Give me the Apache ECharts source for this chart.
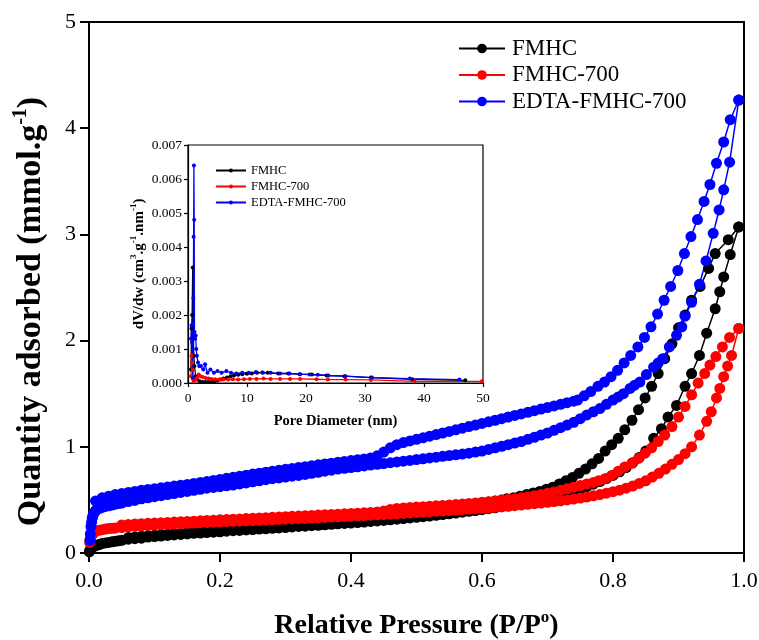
<!DOCTYPE html>
<html><head><meta charset="utf-8">
<script src="https://cdn.jsdelivr.net/npm/echarts@6/dist/echarts.min.js"></script>
<style>html,body{margin:0;padding:0;background:#fff}#c{width:759px;height:640px}</style>
</head><body><div id="c"></div>
<script>
// ---------- Main isotherm data [P/P0, mmol/g] ----------
const fmhcAds = [[0.0005,0.01],[0.001,0.02],[0.002,0.03],[0.003,0.04],[0.005,0.05],[0.007,0.06],[0.01,0.07],[0.013,0.075],[0.016,0.08],[0.02,0.09],[0.025,0.095],[0.03,0.10],[0.035,0.105],[0.04,0.11],[0.045,0.115],[0.05,0.12],[0.06,0.13],[0.07,0.135],[0.08,0.14],[0.09,0.15],[0.10,0.155],[0.11,0.16],[0.12,0.165],[0.13,0.17],[0.14,0.175],[0.15,0.18],[0.16,0.185],[0.17,0.188],[0.18,0.192],[0.19,0.196],[0.20,0.20],[0.21,0.205],[0.22,0.21],[0.23,0.213],[0.24,0.217],[0.25,0.221],[0.26,0.225],[0.27,0.228],[0.28,0.232],[0.29,0.236],[0.30,0.24],[0.31,0.245],[0.32,0.25],[0.33,0.253],[0.34,0.257],[0.35,0.261],[0.36,0.265],[0.37,0.27],[0.38,0.275],[0.39,0.278],[0.40,0.282],[0.41,0.287],[0.42,0.292],[0.43,0.297],[0.44,0.302],[0.45,0.307],[0.46,0.312],[0.47,0.318],[0.48,0.324],[0.49,0.33],[0.50,0.336],[0.51,0.342],[0.52,0.348],[0.53,0.355],[0.54,0.362],[0.55,0.369],[0.56,0.376],[0.57,0.384],[0.58,0.392],[0.59,0.40],[0.60,0.408],[0.61,0.417],[0.62,0.426],[0.63,0.436],[0.64,0.446],[0.65,0.457],[0.66,0.468],[0.67,0.48],[0.68,0.492],[0.69,0.505],[0.70,0.518],[0.71,0.533],[0.72,0.548],[0.73,0.565],[0.74,0.583],[0.75,0.603],[0.76,0.625],[0.77,0.648],[0.78,0.673],[0.79,0.70],[0.80,0.73],[0.81,0.765],[0.82,0.805],[0.83,0.85],[0.84,0.90],[0.85,0.96],[0.862,1.08],[0.874,1.17],[0.884,1.28],[0.897,1.39],[0.910,1.57],[0.920,1.69],[0.932,1.86],[0.943,2.07],[0.956,2.30],[0.963,2.46],[0.969,2.60],[0.979,2.81],[0.992,3.07]];
const fmhcDes = [[0.992,3.07],[0.976,2.95],[0.956,2.82],[0.946,2.68],[0.933,2.51],[0.920,2.38],[0.910,2.24],[0.900,2.12],[0.890,1.97],[0.879,1.83],[0.869,1.69],[0.859,1.57],[0.849,1.46],[0.839,1.35],[0.829,1.25],[0.818,1.16],[0.808,1.08],[0.798,1.02],[0.788,0.96],[0.778,0.89],[0.768,0.84],[0.758,0.79],[0.748,0.75],[0.738,0.71],[0.728,0.68],[0.718,0.65],[0.708,0.62],[0.698,0.60],[0.688,0.58],[0.678,0.565],[0.668,0.55],[0.658,0.535],[0.648,0.52],[0.638,0.51],[0.63,0.50],[0.62,0.49],[0.61,0.48],[0.60,0.47],[0.59,0.46],[0.58,0.45],[0.57,0.44],[0.56,0.43],[0.55,0.422],[0.54,0.415],[0.53,0.407],[0.52,0.40],[0.51,0.392],[0.50,0.385],[0.49,0.377],[0.48,0.37],[0.47,0.362],[0.46,0.355],[0.45,0.345],[0.44,0.335],[0.43,0.327],[0.42,0.32],[0.41,0.31],[0.40,0.30],[0.39,0.296],[0.38,0.292],[0.37,0.287],[0.36,0.282],[0.35,0.277],[0.34,0.272],[0.33,0.267],[0.32,0.262],[0.31,0.257],[0.30,0.253],[0.29,0.249],[0.28,0.245],[0.27,0.241],[0.26,0.237],[0.25,0.233],[0.24,0.229],[0.23,0.225],[0.22,0.221],[0.21,0.217],[0.20,0.213],[0.19,0.209],[0.18,0.205],[0.17,0.20],[0.16,0.196],[0.15,0.191],[0.14,0.187],[0.13,0.182],[0.12,0.177],[0.11,0.172],[0.10,0.167],[0.09,0.162],[0.08,0.157],[0.07,0.151],[0.06,0.145]];
const f700Ads = [[0.001,0.10],[0.002,0.13],[0.003,0.15],[0.004,0.165],[0.005,0.18],[0.007,0.19],[0.009,0.20],[0.012,0.21],[0.016,0.215],[0.02,0.22],[0.025,0.225],[0.03,0.23],[0.035,0.232],[0.04,0.235],[0.05,0.24],[0.06,0.245],[0.07,0.25],[0.08,0.255],[0.09,0.258],[0.10,0.262],[0.11,0.266],[0.12,0.27],[0.13,0.273],[0.14,0.276],[0.15,0.279],[0.16,0.282],[0.17,0.285],[0.18,0.288],[0.19,0.29],[0.20,0.293],[0.21,0.296],[0.22,0.298],[0.23,0.30],[0.24,0.303],[0.25,0.306],[0.26,0.308],[0.27,0.311],[0.28,0.313],[0.29,0.316],[0.30,0.318],[0.31,0.321],[0.32,0.324],[0.33,0.326],[0.34,0.329],[0.35,0.332],[0.36,0.335],[0.37,0.338],[0.38,0.341],[0.39,0.344],[0.40,0.347],[0.41,0.35],[0.42,0.353],[0.43,0.356],[0.44,0.359],[0.45,0.362],[0.46,0.366],[0.47,0.37],[0.48,0.373],[0.49,0.377],[0.50,0.381],[0.51,0.384],[0.52,0.388],[0.53,0.392],[0.54,0.396],[0.55,0.40],[0.56,0.404],[0.57,0.408],[0.58,0.412],[0.59,0.416],[0.60,0.42],[0.61,0.425],[0.62,0.43],[0.63,0.435],[0.64,0.44],[0.65,0.446],[0.66,0.452],[0.67,0.458],[0.68,0.464],[0.69,0.47],[0.70,0.477],[0.71,0.484],[0.72,0.492],[0.73,0.50],[0.74,0.508],[0.75,0.517],[0.76,0.527],[0.77,0.538],[0.78,0.55],[0.79,0.563],[0.80,0.577],[0.81,0.592],[0.82,0.61],[0.83,0.63],[0.84,0.655],[0.85,0.68],[0.86,0.715],[0.87,0.75],[0.88,0.79],[0.89,0.835],[0.90,0.88],[0.91,0.935],[0.92,1.00],[0.932,1.11],[0.943,1.24],[0.950,1.33],[0.958,1.46],[0.963,1.55],[0.969,1.66],[0.975,1.76],[0.981,1.86],[0.992,2.115]];
const f700Des = [[0.992,2.115],[0.978,2.03],[0.967,1.94],[0.957,1.85],[0.948,1.77],[0.940,1.69],[0.930,1.60],[0.920,1.49],[0.910,1.38],[0.900,1.28],[0.890,1.19],[0.879,1.11],[0.869,1.05],[0.859,0.99],[0.849,0.94],[0.839,0.89],[0.829,0.845],[0.818,0.81],[0.808,0.77],[0.798,0.73],[0.788,0.70],[0.778,0.68],[0.77,0.665],[0.76,0.65],[0.75,0.635],[0.74,0.62],[0.73,0.605],[0.72,0.59],[0.71,0.575],[0.70,0.562],[0.69,0.55],[0.68,0.54],[0.67,0.53],[0.66,0.52],[0.65,0.512],[0.64,0.505],[0.63,0.498],[0.62,0.49],[0.61,0.483],[0.60,0.477],[0.59,0.471],[0.58,0.466],[0.57,0.461],[0.56,0.456],[0.55,0.452],[0.54,0.448],[0.53,0.444],[0.52,0.44],[0.51,0.436],[0.50,0.432],[0.49,0.428],[0.48,0.424],[0.47,0.42],[0.46,0.41],[0.45,0.395],[0.44,0.386],[0.43,0.382],[0.42,0.378],[0.41,0.375],[0.40,0.372],[0.39,0.369],[0.38,0.366],[0.37,0.363],[0.36,0.36],[0.35,0.357],[0.34,0.354],[0.33,0.351],[0.32,0.348],[0.31,0.345],[0.30,0.342],[0.29,0.339],[0.28,0.336],[0.27,0.333],[0.26,0.33],[0.25,0.327],[0.24,0.324],[0.23,0.321],[0.22,0.318],[0.21,0.315],[0.20,0.312],[0.19,0.309],[0.18,0.306],[0.17,0.303],[0.16,0.30],[0.15,0.297],[0.14,0.294],[0.13,0.291],[0.12,0.288],[0.11,0.285],[0.10,0.282],[0.09,0.279],[0.08,0.276],[0.07,0.272],[0.06,0.268],[0.05,0.264]];
const edtaAds = [[0.0015,0.12],[0.002,0.18],[0.003,0.25],[0.004,0.29],[0.005,0.33],[0.006,0.35],[0.007,0.37],[0.009,0.39],[0.011,0.405],[0.014,0.415],[0.017,0.422],[0.02,0.43],[0.025,0.438],[0.03,0.445],[0.035,0.452],[0.04,0.46],[0.045,0.465],[0.05,0.47],[0.06,0.485],[0.07,0.495],[0.08,0.51],[0.09,0.52],[0.10,0.53],[0.11,0.54],[0.12,0.55],[0.13,0.56],[0.14,0.57],[0.15,0.58],[0.16,0.59],[0.17,0.60],[0.18,0.61],[0.19,0.617],[0.20,0.625],[0.21,0.633],[0.22,0.64],[0.23,0.65],[0.24,0.66],[0.25,0.67],[0.26,0.68],[0.27,0.69],[0.28,0.70],[0.29,0.707],[0.30,0.715],[0.31,0.723],[0.32,0.73],[0.33,0.74],[0.34,0.75],[0.35,0.76],[0.36,0.77],[0.37,0.78],[0.38,0.79],[0.39,0.797],[0.40,0.805],[0.41,0.812],[0.42,0.82],[0.43,0.828],[0.44,0.835],[0.45,0.842],[0.46,0.85],[0.47,0.858],[0.48,0.865],[0.49,0.872],[0.50,0.88],[0.51,0.887],[0.52,0.895],[0.53,0.902],[0.54,0.91],[0.55,0.918],[0.56,0.925],[0.57,0.932],[0.58,0.94],[0.59,0.95],[0.60,0.96],[0.61,0.975],[0.62,0.99],[0.63,1.005],[0.64,1.02],[0.65,1.035],[0.66,1.05],[0.67,1.07],[0.68,1.09],[0.69,1.11],[0.70,1.13],[0.71,1.155],[0.72,1.18],[0.73,1.205],[0.74,1.23],[0.75,1.265],[0.76,1.30],[0.77,1.33],[0.78,1.36],[0.79,1.40],[0.80,1.44],[0.808,1.47],[0.816,1.50],[0.826,1.55],[0.833,1.58],[0.841,1.61],[0.851,1.68],[0.862,1.75],[0.869,1.79],[0.876,1.83],[0.886,1.94],[0.897,2.05],[0.905,2.13],[0.910,2.23],[0.920,2.36],[0.932,2.53],[0.942,2.75],[0.953,3.01],[0.962,3.23],[0.969,3.42],[0.978,3.68],[0.992,4.265]];
const edtaDes = [[0.992,4.265],[0.979,4.08],[0.969,3.87],[0.958,3.67],[0.948,3.47],[0.939,3.31],[0.929,3.14],[0.919,2.98],[0.909,2.82],[0.899,2.66],[0.888,2.51],[0.878,2.38],[0.868,2.25],[0.858,2.13],[0.848,2.03],[0.838,1.94],[0.827,1.86],[0.817,1.79],[0.807,1.72],[0.797,1.66],[0.787,1.61],[0.777,1.57],[0.766,1.52],[0.756,1.48],[0.746,1.44],[0.74,1.43],[0.73,1.415],[0.72,1.40],[0.71,1.385],[0.70,1.37],[0.69,1.355],[0.68,1.34],[0.67,1.325],[0.66,1.31],[0.65,1.295],[0.64,1.28],[0.63,1.265],[0.62,1.25],[0.61,1.235],[0.60,1.22],[0.59,1.205],[0.58,1.19],[0.57,1.175],[0.56,1.16],[0.55,1.145],[0.54,1.13],[0.53,1.115],[0.52,1.10],[0.51,1.085],[0.50,1.07],[0.49,1.055],[0.48,1.04],[0.47,1.02],[0.46,0.99],[0.45,0.95],[0.44,0.915],[0.43,0.895],[0.42,0.885],[0.41,0.878],[0.40,0.87],[0.39,0.862],[0.38,0.854],[0.37,0.846],[0.36,0.838],[0.35,0.83],[0.34,0.822],[0.33,0.813],[0.32,0.805],[0.31,0.796],[0.30,0.788],[0.29,0.779],[0.28,0.77],[0.27,0.761],[0.26,0.752],[0.25,0.743],[0.24,0.733],[0.23,0.723],[0.22,0.713],[0.21,0.703],[0.20,0.693],[0.19,0.683],[0.18,0.673],[0.17,0.664],[0.16,0.655],[0.15,0.646],[0.14,0.638],[0.13,0.63],[0.12,0.622],[0.11,0.614],[0.10,0.606],[0.09,0.598],[0.08,0.59],[0.07,0.58],[0.06,0.57],[0.05,0.56],[0.04,0.55],[0.03,0.535],[0.02,0.52],[0.01,0.49]];

// ---------- Inset pore size distribution [nm, cm3/g/nm] ----------
const psdFmhc = [[0.5,0.0004],[0.6,0.0016],[0.7,0.002],[0.8,0.0034],[0.9,0.0013],[1.0,0.0008],[1.1,0.0005],[1.3,0.0002],[1.6,0.0001],[2,0.00005],[2.5,0.00003],[3,0.00003],[3.5,0.00003],[4,0.00004],[4.5,0.00005],[5,0.00007],[5.5,0.0001],[6,0.00013],[6.6,0.00016],[7.2,0.0002],[7.8,0.00022],[8.5,0.00024],[9.2,0.00026],[10,0.00027],[10.8,0.00028],[11.7,0.0003],[12.6,0.00031],[13.5,0.0003],[15.3,0.00028],[17,0.00028],[19,0.00026],[21,0.00025],[23.5,0.00022],[26.5,0.0002],[31,0.00016],[38,0.00011],[47,0.00008]];
const psdF700 = [[0.5,0.0002],[0.6,0.0008],[0.7,0.0006],[0.8,0.0004],[0.9,0.0001],[1.0,0.00005],[1.2,0.00008],[1.5,0.00015],[1.8,0.00025],[2.1,0.0002],[2.5,0.00018],[3,0.00015],[3.5,0.00013],[4,0.00012],[4.6,0.00011],[5.3,0.0001],[6,0.0001],[6.8,0.0001],[7.6,0.00011],[8.5,0.0001],[9.5,0.00011],[10.5,0.00012],[11.6,0.00012],[12.8,0.00013],[14,0.00012],[15.6,0.00012],[17.3,0.00012],[19,0.00012],[21.8,0.00011],[23.7,0.0001],[26.7,0.0001],[31,0.00009],[38.4,0.00005],[49.8,0.00005]];
const psdEdta = [[0.5,0.0013],[0.6,0.0017],[0.7,0.0012],[0.8,0.00015],[0.9,0.0025],[0.95,0.0043],[1.0,0.0064],[1.05,0.0048],[1.1,0.0015],[1.2,0.0013],[1.3,0.0014],[1.4,0.001],[1.5,0.0008],[1.7,0.0006],[1.9,0.0005],[2.2,0.0005],[2.6,0.0004],[2.9,0.00055],[3.3,0.0003],[3.8,0.0004],[4.4,0.0003],[5,0.00035],[5.7,0.0003],[6.5,0.00035],[7.3,0.0003],[8.2,0.00028],[9.2,0.0003],[10.3,0.0003],[11.5,0.00032],[12.7,0.0003],[14,0.0003],[15.6,0.00028],[17.2,0.00028],[18.9,0.00026],[20.6,0.00025],[22,0.00024],[23.8,0.00022],[26.7,0.0002],[31.2,0.00016],[37.6,0.00013],[46,0.0001]];

const seriesNames = ['FMHC','FMHC-700','EDTA-FMHC-700'];
const colors = ['#000000','#ff0000','#0000ff'];

const FONT = '"Liberation Serif", "Times New Roman", serif';
const chart = echarts.init(document.getElementById('c'), null, {renderer:'canvas'});

function mainSeries(name, color, data){
  return {name, type:'line', xAxisIndex:0, yAxisIndex:0, data,
    symbol:'circle', symbolSize:11, showSymbol:true,
    itemStyle:{color}, lineStyle:{color, width:1.5}, emphasis:{disabled:true}};
}
function insetSeries(name, color, data){
  return {name: name + ' ', type:'line', xAxisIndex:1, yAxisIndex:1, data,
    symbol:'circle', symbolSize:4, showSymbol:true, z:5,
    itemStyle:{color}, lineStyle:{color, width:1.3}, emphasis:{disabled:true}};
}

const supRich = (base, weight) => ({
  a:{fontSize:base, fontWeight:weight, fontFamily:FONT, color:'#000', lineHeight:base+6},
  s:{fontSize:Math.round(base*0.6), fontWeight:weight, fontFamily:FONT, color:'#000', verticalAlign:'top', lineHeight:Math.round(base*0.6)}
});

const option = {
  animation:false,
  backgroundColor:'#fff',
  grid:[
    {left:89, top:22, width:655, height:531, show:true, borderColor:'#000', borderWidth:2, backgroundColor:'transparent', containLabel:false, outerBoundsMode:'none'},
    {left:188, top:145, width:295, height:238, show:true, borderColor:'#000', borderWidth:1.2, backgroundColor:'#fff', z:4, containLabel:false, outerBoundsMode:'none'}
  ],
  legend:[
    {data:seriesNames, orient:'vertical', left:453, top:32, itemWidth:46, itemHeight:12, itemGap:3.5,
     textStyle:{fontFamily:FONT, fontSize:23, color:'#000', padding:[0,0,0,2]}, selectedMode:false},
    {data:seriesNames.map(n=>n+' '), orient:'vertical', left:210, top:159, itemWidth:30, itemHeight:5, itemGap:3,
     textStyle:{fontFamily:FONT, fontSize:12.5, color:'#000'}, selectedMode:false, z:6, formatter:n=>n.trim()}
  ],
  xAxis:[
    {type:'value', gridIndex:0, min:0, max:1, interval:0.2,
     axisLine:{show:true, lineStyle:{color:'#000', width:2}},
     axisTick:{show:true, inside:false, length:9, lineStyle:{color:'#000', width:2}},
     axisLabel:{color:'#000', fontFamily:FONT, fontSize:22, margin:17, formatter:v=>v.toFixed(1)},
     splitLine:{show:false},
     name:'{a|Relative Pressure (P/P}{s|o}{a|)}', nameLocation:'middle', nameGap:56,
     nameTextStyle:{rich:supRich(28,'bold')}},
    {type:'value', gridIndex:1, min:0, max:50, interval:10,
     axisLine:{show:true, lineStyle:{color:'#000', width:1.2}},
     axisTick:{show:true, inside:false, length:4, lineStyle:{color:'#000', width:1.2}},
     axisLabel:{color:'#000', fontFamily:FONT, fontSize:13.5, margin:8},
     splitLine:{show:false}, z:5,
     name:'Pore Diameter (nm)', nameLocation:'middle', nameGap:31,
     nameTextStyle:{fontFamily:FONT, fontSize:14.5, fontWeight:'bold', color:'#000'}}
  ],
  yAxis:[
    {type:'value', gridIndex:0, min:0, max:5, interval:1,
     axisLine:{show:true, lineStyle:{color:'#000', width:2}},
     axisTick:{show:true, inside:false, length:9, lineStyle:{color:'#000', width:2}},
     axisLabel:{color:'#000', fontFamily:FONT, fontSize:22, margin:13},
     splitLine:{show:false},
     name:'{a|Quantity adsorbed (mmol.g}{s|-1}{a|)}', nameLocation:'middle', nameGap:38,
     nameTextStyle:{rich:supRich(34,'bold'), padding:[0,48,0,0]}},
    {type:'value', gridIndex:1, min:0, max:0.007, interval:0.001,
     axisLine:{show:true, lineStyle:{color:'#000', width:1.2}},
     axisTick:{show:true, inside:false, length:4, lineStyle:{color:'#000', width:1.2}},
     axisLabel:{color:'#000', fontFamily:FONT, fontSize:13.5, margin:6, formatter:v=>v.toFixed(3)},
     splitLine:{show:false}, z:5,
     name:'{a|dV/dw (cm}{s|3}{a|.g}{s|-1}{a|.nm}{s|-1}{a|)}', nameLocation:'middle', nameGap:38,
     nameTextStyle:{rich:supRich(15,'bold')}}
  ],
  series:[
    mainSeries(seriesNames[0], colors[0], fmhcAds),
    mainSeries(seriesNames[0], colors[0], fmhcDes),
    mainSeries(seriesNames[1], colors[1], f700Ads),
    mainSeries(seriesNames[1], colors[1], f700Des),
    mainSeries(seriesNames[2], colors[2], edtaAds),
    mainSeries(seriesNames[2], colors[2], edtaDes),
    insetSeries(seriesNames[0], colors[0], psdFmhc),
    insetSeries(seriesNames[1], colors[1], psdF700),
    insetSeries(seriesNames[2], colors[2], psdEdta)
  ]
};
chart.setOption(option);
</script></body></html>
